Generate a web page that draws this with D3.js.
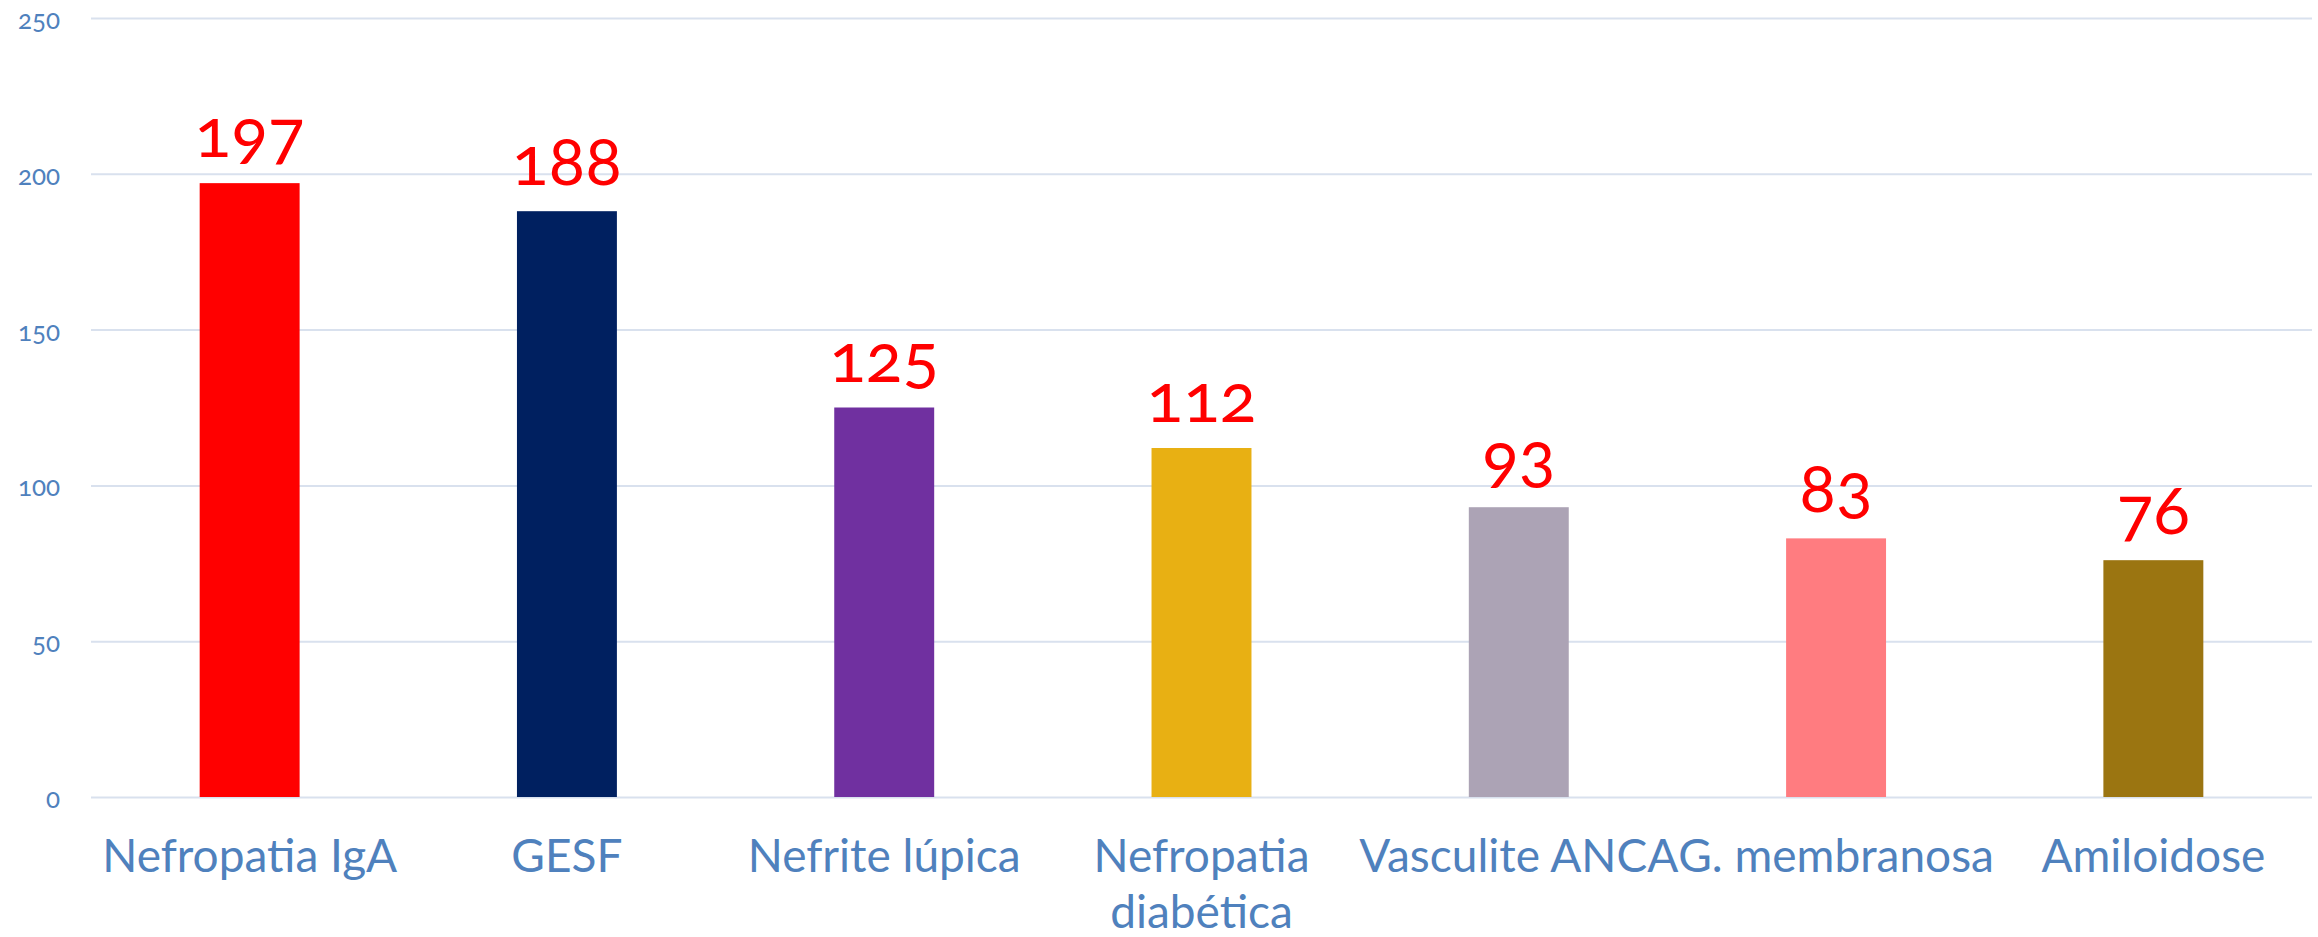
<!DOCTYPE html>
<html>
<head>
<meta charset="utf-8">
<script src="https://cdn.jsdelivr.net/npm/d3@7/dist/d3.min.js"></script>
<style>
  body { margin: 0; background: #fff; }
  svg text { font-family: Lato, "Open Sans", sans-serif; }
  .y.axis text { font-variant-numeric: oldstyle-nums; }
  .label { font-variant-numeric: oldstyle-nums; }
</style>
</head>
<body>
<svg id="chart" width="2318" height="937"></svg>
<script>
// data
var categories = ["Nefropatia IgA", "GESF", "Nefrite lúpica", "Nefropatia\ndiabética", "Vasculite ANCA", "G. membranosa", "Amiloidose"];
var values = [197, 188, 125, 112, 93, 83, 76];
var barColors = ["#ff0000", "#002060", "#7030a0", "#e8b013", "#aca3b5", "#ff7c80", "#9b7511"];
var yTicks = [0, 50, 100, 150, 200, 250];

var margin = {top: 18, right: 6, bottom: 140, left: 91};
var width = 2318 - margin.left - margin.right;
var height = 937 - margin.top - margin.bottom;

var svg = d3.select("#chart")
    .append("g")
    .attr("transform", "translate(" + margin.left + "," + margin.top + ")");

var xScale = d3.scaleBand()
    .domain(categories)
    .range([0, width])
    .paddingInner(0.685)
    .paddingOuter(0.3425);

var yScale = d3.scaleLinear()
    .domain([0, 250])
    .range([height, 0]);

// gridlines + y labels
var gY = svg.append("g")
    .attr("class", "y axis")
    .call(d3.axisLeft(yScale).tickValues(yTicks).tickSize(-width).tickPadding(31));

gY.select(".domain").remove();
gY.selectAll(".tick line")
    .attr("stroke", "#d9e1ee")
    .attr("stroke-width", 2);
gY.selectAll(".tick text")
    .attr("fill", "#4f81bd")
    .attr("font-size", 26)
    .attr("dy", "0.4em");

// bars
svg.selectAll(".bar")
    .data(values)
    .enter().append("rect")
    .attr("class", "bar")
    .attr("x", function(d, i){ return xScale(categories[i]); })
    .attr("y", function(d){ return yScale(d); })
    .attr("width", xScale.bandwidth())
    .attr("height", function(d){ return height - yScale(d); })
    .style("fill", function(d, i){ return barColors[i]; });

// value labels
svg.selectAll(".label")
    .data(values)
    .enter().append("text")
    .attr("class", "label")
    .attr("x", function(d, i){ return xScale(categories[i]) + xScale.bandwidth() / 2; })
    .attr("y", function(d){ return yScale(d) - 26; })
    .attr("text-anchor", "middle")
    .attr("font-size", 68)
    .attr("fill", "#ff0000")
    .text(function(d){ return d; });

// category labels
var gX = svg.append("g")
    .attr("class", "x axis")
    .attr("transform", "translate(0," + height + ")")
    .call(d3.axisBottom(xScale).tickSize(0));

gX.select(".domain").remove();
gX.selectAll(".tick text")
    .attr("fill", "#4f81bd")
    .attr("font-size", 46)
    .attr("y", 75)
    .attr("dy", null)
    .each(function(d){
        var t = d3.select(this);
        var lines = d.split("\n");
        t.text(null);
        lines.forEach(function(line, i){
            t.append("tspan")
                .attr("x", 0)
                .attr("dy", i === 0 ? 0 : 56)
                .text(line);
        });
    });
</script>
</body>
</html>
